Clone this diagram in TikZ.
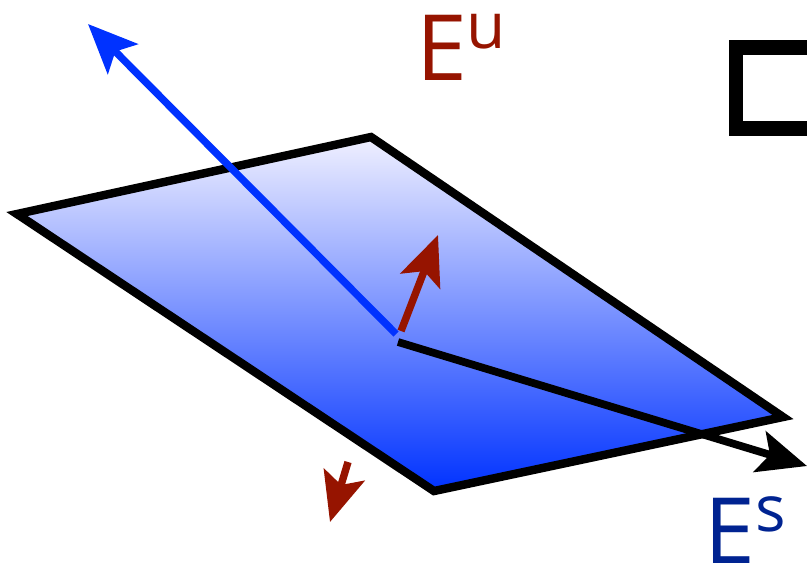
\documentclass[tikz,border=0pt]{standalone}
\usepackage{fontspec}
\setmainfont{Open Sans}
\usetikzlibrary{arrows.meta}
\definecolor{eured}{RGB}{150,20,0}
\definecolor{esblue}{RGB}{0,35,145}
\definecolor{planeblue}{RGB}{0,50,255}
\definecolor{planetop}{RGB}{240,240,255}

\begin{document}
\begin{tikzpicture}[x=0.01cm,y=-0.01cm,
  lbl/.style={font=\fontsize{26}{30}\selectfont,inner sep=0pt},
  vec/.style={line width=2.1pt,-{Stealth[length=14pt,width=12pt,inset=3pt]}}]
\useasboundingbox (0,0) rectangle (807,584);
\clip (0,0) rectangle (807,584);

% the plane
\coordinate (p1) at (17,214);
\coordinate (p2) at (371,137);
\coordinate (p3) at (783,417);
\coordinate (p4) at (434,491);
\draw[line width=2.4pt,line join=miter,top color=planetop,bottom color=planeblue]
  (p1) -- (p2) -- (p3) -- (p4) -- cycle;

% base points and tips
\coordinate (ou) at (396,334);
\coordinate (os) at (398,342);
\coordinate (on) at (401,331);
\coordinate (ob) at (348,462);
\coordinate (tu) at (88,24);
\coordinate (ts) at (807,466);
\coordinate (tn) at (438,235);
\coordinate (tb) at (330,522);

\node[lbl,text=eured] (eu) at (462,47) {E\textsuperscript{u}};
\node[lbl,text=esblue] (es) at (746,530) {E\textsuperscript{s}};

\draw[vec,color=planeblue] (ou) -- (tu);
\draw[vec,color=black,line width=2.2pt] (os) -- (ts);
\draw[vec,color=eured] (on) -- (tn);
\draw[vec,color=eured] (ob) -- (tb);

% box at the corner
\draw[line width=4pt] (736,47.5) rectangle (860,128.5);
\end{tikzpicture}
\end{document}
